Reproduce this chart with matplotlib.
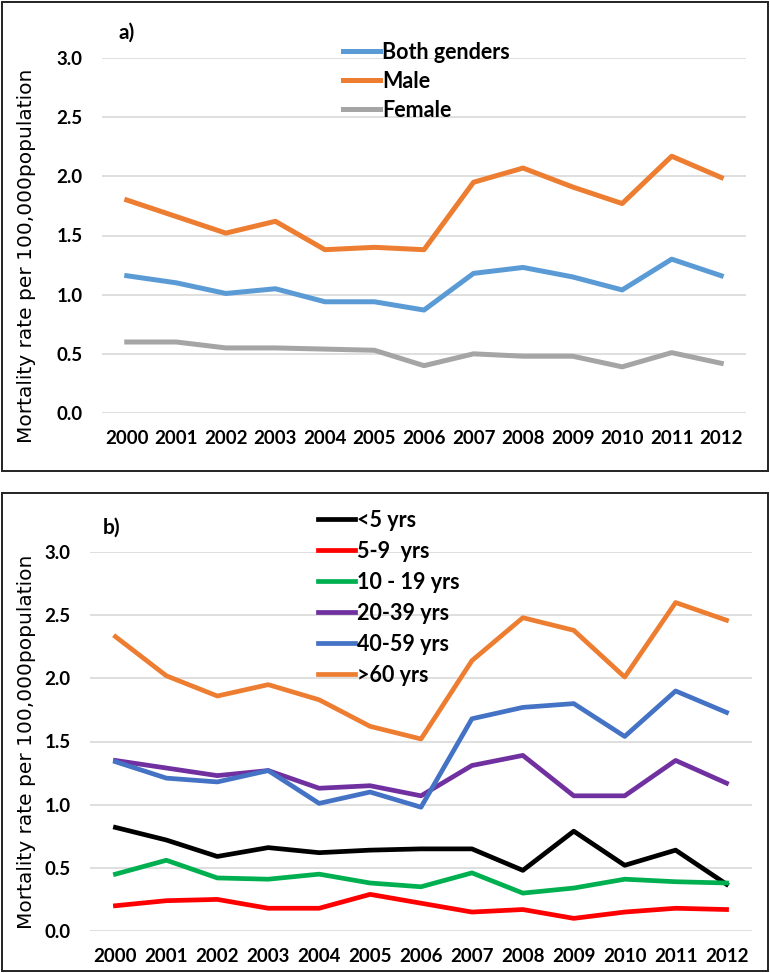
import matplotlib
matplotlib.use("Agg")
import matplotlib.pyplot as plt
from matplotlib.patches import Rectangle

years = ["2000", "2001", "2002", "2003", "2004", "2005", "2006",
         "2007", "2008", "2009", "2010", "2011", "2012"]

# Panel a
both_genders = [1.16, 1.10, 1.01, 1.05, 0.94, 0.94, 0.87, 1.18, 1.23, 1.15, 1.04, 1.30, 1.16]
male = [1.80, 1.66, 1.52, 1.62, 1.38, 1.40, 1.38, 1.95, 2.07, 1.91, 1.77, 2.17, 1.99]
female = [0.60, 0.60, 0.55, 0.55, 0.54, 0.53, 0.40, 0.50, 0.48, 0.48, 0.39, 0.51, 0.42]

# Panel b
age_lt5 = [0.82, 0.72, 0.59, 0.66, 0.62, 0.64, 0.65, 0.65, 0.48, 0.79, 0.52, 0.64, 0.37]
age_5_9 = [0.20, 0.24, 0.25, 0.18, 0.18, 0.29, 0.22, 0.15, 0.17, 0.10, 0.15, 0.18, 0.17]
age_10_19 = [0.45, 0.56, 0.42, 0.41, 0.45, 0.38, 0.35, 0.46, 0.30, 0.34, 0.41, 0.39, 0.38]
age_20_39 = [1.35, 1.29, 1.23, 1.27, 1.13, 1.15, 1.07, 1.31, 1.39, 1.07, 1.07, 1.35, 1.17]
age_40_59 = [1.34, 1.21, 1.18, 1.27, 1.01, 1.10, 0.98, 1.68, 1.77, 1.80, 1.54, 1.90, 1.73]
age_gt60 = [2.33, 2.02, 1.86, 1.95, 1.83, 1.62, 1.52, 2.14, 2.48, 2.38, 2.01, 2.60, 2.46]

labels_a = ["Both genders", "Male", "Female"]
labels_b = ["<5 yrs", "5-9  yrs", "10 - 19 yrs", "20-39 yrs", "40-59 yrs", ">60 yrs"]
yticks = [0.0, 0.5, 1.0, 1.5, 2.0, 2.5, 3.0]
ylabel = "Mortality rate per 100,000population"

W, H = 770, 973
fig = plt.figure(figsize=(W / 100, H / 100), dpi=100)

def fx(px):
    return px / W

def fy(py):
    return 1 - py / H

tick_font = dict(family="Lato", weight="bold", size=13.5)
leg_prop = dict(family="Lato", weight="bold", size=15.5)

def make_axes(l, r, t, b):
    ax = fig.add_axes([fx(l), fy(b), fx(r - l), (b - t) / H])
    ax.set_xlim(-0.5, len(years) - 0.5)
    ax.set_ylim(0, 3.0)
    ax.set_yticks(yticks)
    ax.set_yticklabels([f"{v:.1f}" for v in yticks], fontdict=tick_font)
    ax.set_xticks(range(len(years)))
    ax.set_xticklabels(years, fontdict=tick_font)
    ax.tick_params(length=0, axis="x", pad=12)
    ax.tick_params(length=0, axis="y", pad=14)
    for s in ax.spines.values():
        s.set_visible(False)
    ax.grid(axis="y", color="#D9D9D9", linewidth=1.2)
    ax.set_axisbelow(True)
    return ax

# Frames
fig.patches.append(Rectangle((fx(2), fy(471)), fx(766), (471 - 2) / H,
                             transform=fig.transFigure, fill=False,
                             edgecolor="#222222", linewidth=1.4))
fig.patches.append(Rectangle((fx(2), fy(971)), fx(766), (971 - 493) / H,
                             transform=fig.transFigure, fill=False,
                             edgecolor="#222222", linewidth=1.4))

x = list(range(len(years)))

# Panel a
ax1 = make_axes(102, 746, 58, 413)
colors_a = ["#5B9BD5", "#ED7D31", "#A5A5A5"]
for vals, lab, c in zip([both_genders, male, female], labels_a, colors_a):
    ax1.plot(x, vals, color=c, linewidth=3.6, label=lab)
ax1.legend(loc="upper left", bbox_to_anchor=(fx(343), fy(42)),
           bbox_transform=fig.transFigure, frameon=False, prop=leg_prop,
           handlelength=1.7, handletextpad=0.12, labelspacing=0.37,
           borderpad=0, borderaxespad=0)
fig.text(fx(127), fy(33), "a)", ha="center", va="center",
         fontdict=dict(family="Lato", weight="bold", size=15))
fig.text(fx(27), fy(256), ylabel, rotation=90, ha="center", va="center",
         fontdict=dict(family="DejaVu Sans", size=14.5))

# Panel b
ax2 = make_axes(90, 752, 552, 931)
colors_b = ["#000000", "#FF0000", "#00B050", "#7030A0", "#4472C4", "#ED7D31"]
series_b = [age_lt5, age_5_9, age_10_19, age_20_39, age_40_59, age_gt60]
for vals, lab, c in zip(series_b, labels_b, colors_b):
    ax2.plot(x, vals, color=c, linewidth=3.4, label=lab)
ax2.legend(loc="upper left", bbox_to_anchor=(fx(318), fy(510)),
           bbox_transform=fig.transFigure, frameon=False, prop=leg_prop,
           handlelength=1.7, handletextpad=0.12, labelspacing=0.46,
           borderpad=0, borderaxespad=0)
fig.text(fx(112), fy(528), "b)", ha="center", va="center",
         fontdict=dict(family="Lato", weight="bold", size=15))
fig.text(fx(27), fy(742), ylabel, rotation=90, ha="center", va="center",
         fontdict=dict(family="DejaVu Sans", size=14.5))

fig.savefig("out.png", dpi=100)
